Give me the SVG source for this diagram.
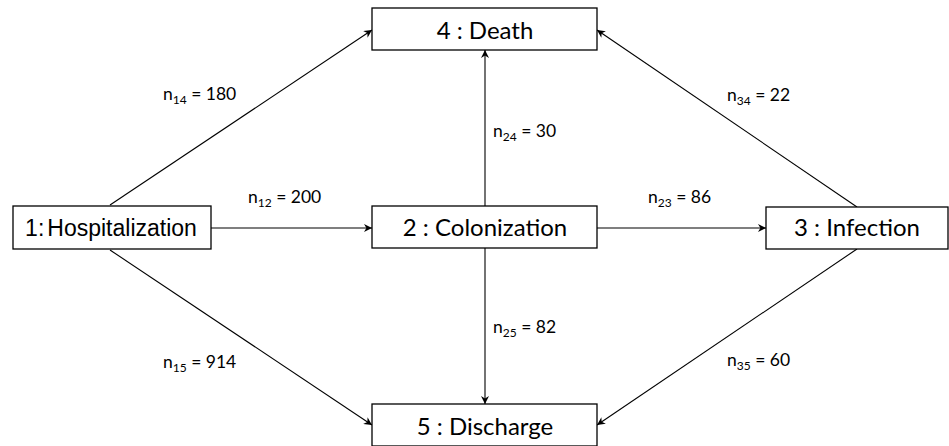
<svg xmlns="http://www.w3.org/2000/svg" width="949" height="446" viewBox="0 0 949 446">
<defs>
<marker id="arr" viewBox="0 0 10 10" refX="10" refY="5" markerWidth="8" markerHeight="8" markerUnits="userSpaceOnUse" orient="auto">
<path d="M0,0 L10,5 L0,10 L3,5 Z" fill="#000"/>
</marker>
</defs>
<style>
.box{fill:#fff;stroke:#000;stroke-width:1.3}
.nt{font-family:Lato,"Open Sans",sans-serif;font-size:24px;text-anchor:middle;fill:#000}
.nta{font-family:"Liberation Sans",Arial,sans-serif;font-size:23px;text-anchor:middle;fill:#000}
.lb{font-family:Lato,"Open Sans",sans-serif;font-size:17.5px;fill:#000}
.sub{font-size:12px}
.edge{stroke:#000;stroke-width:1.1;fill:none;marker-end:url(#arr)}
</style>
<rect width="949" height="446" fill="#fff"/>
<g id="connectors">
<line class="edge" x1="110" y1="205" x2="372" y2="30"/>
<line class="edge" x1="110" y1="250" x2="372" y2="425"/>
<line class="edge" x1="211" y1="228" x2="372" y2="228"/>
<line class="edge" x1="485" y1="206" x2="485" y2="50"/>
<line class="edge" x1="485" y1="248" x2="485" y2="404"/>
<line class="edge" x1="597" y1="228" x2="766" y2="228"/>
<line class="edge" x1="857" y1="207" x2="597" y2="30"/>
<line class="edge" x1="857" y1="249" x2="597" y2="425"/>
</g>
<g id="labels">
<text class="lb" x="163" y="100">n<tspan class="sub" dy="4">14</tspan><tspan dy="-4"> = 180</tspan></text>
<text class="lb" x="248" y="203">n<tspan class="sub" dy="4">12</tspan><tspan dy="-4"> = 200</tspan></text>
<text class="lb" x="493" y="137">n<tspan class="sub" dy="4">24</tspan><tspan dy="-4"> = 30</tspan></text>
<text class="lb" x="648" y="203">n<tspan class="sub" dy="4">23</tspan><tspan dy="-4"> = 86</tspan></text>
<text class="lb" x="727" y="101">n<tspan class="sub" dy="4">34</tspan><tspan dy="-4"> = 22</tspan></text>
<text class="lb" x="493" y="333">n<tspan class="sub" dy="4">25</tspan><tspan dy="-4"> = 82</tspan></text>
<text class="lb" x="163" y="368">n<tspan class="sub" dy="4">15</tspan><tspan dy="-4"> = 914</tspan></text>
<text class="lb" x="727" y="366">n<tspan class="sub" dy="4">35</tspan><tspan dy="-4"> = 60</tspan></text>
</g>
<g id="node1">
<rect class="box" x="13" y="206" width="198" height="43"/>
<text class="nta" x="111" y="236">1:<tspan dx="3">Hospitalization</tspan></text>
</g>
<g id="node4">
<rect class="box" x="372" y="8" width="225" height="42"/>
<text class="nt" x="485" y="39">4 : Death</text>
</g>
<g id="node2">
<rect class="box" x="372" y="206" width="225" height="42"/>
<text class="nt" x="485" y="236">2 : Colonization</text>
</g>
<g id="node3">
<rect class="box" x="766" y="207" width="182" height="42"/>
<text class="nt" x="857" y="236">3 : Infection</text>
</g>
<g id="node5">
<rect class="box" x="372" y="404" width="225" height="42"/>
<text class="nt" x="485" y="435">5 : Discharge</text>
</g>
</svg>
